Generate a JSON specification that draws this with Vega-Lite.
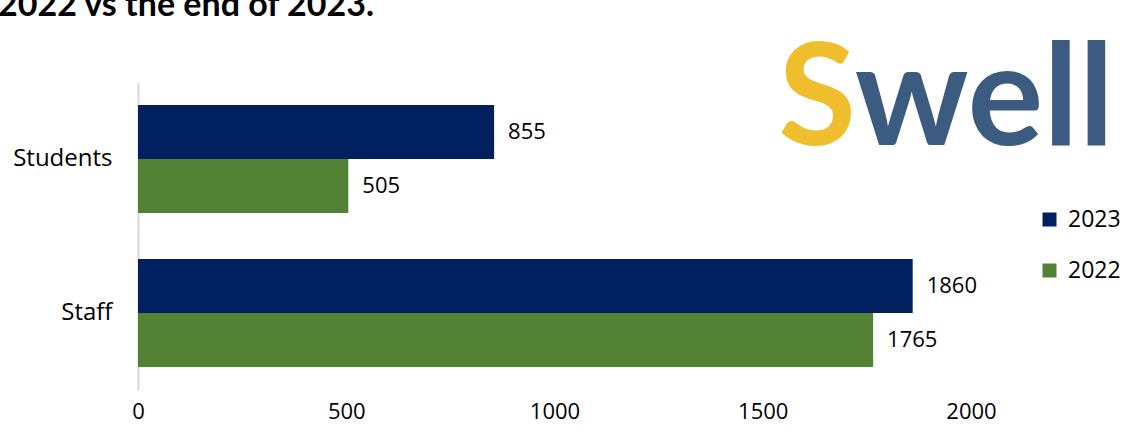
{
  "$schema": "https://vega.github.io/schema/vega-lite/v6.json",
  "autosize": {"type": "none"},
  "width": 833,
  "height": 308,
  "padding": {"left": 138, "top": 82, "right": 157, "bottom": 44},
  "background": "white",
  "title": {
    "text": "2022 vs the end of 2023.",
    "anchor": "start",
    "frame": "group",
    "font": "Lato",
    "fontSize": 34,
    "fontWeight": "bold",
    "color": "#000000",
    "baseline": "alphabetic",
    "offset": -19,
    "dx": -140
  },
  "config": {
    "view": {"stroke": null},
    "font": "Open Sans"
  },
  "data": {
    "values": [
      {"group": "Students", "year": "2023", "count": 855},
      {"group": "Students", "year": "2022", "count": 505},
      {"group": "Staff", "year": "2023", "count": 1860},
      {"group": "Staff", "year": "2022", "count": 1765}
    ]
  },
  "layer": [
    {
      "mark": {"type": "bar"},
      "encoding": {
        "y": {
          "field": "group", "type": "nominal", "sort": ["Students", "Staff"],
          "scale": {"paddingInner": 0.3, "paddingOuter": 0.15},
          "axis": {"title": null, "ticks": false, "domainColor": "#d9d9d9", "domainWidth": 2, "labelFont": "Open Sans", "labelFontSize": 24, "labelColor": "#000000", "labelPadding": 26}
        },
        "yOffset": {"field": "year", "type": "nominal", "sort": ["2023", "2022"]},
        "x": {
          "field": "count", "type": "quantitative",
          "scale": {"domain": [0, 2000], "nice": false},
          "axis": {"title": null, "values": [0, 500, 1000, 1500, 2000], "format": "d", "grid": false, "domain": false, "ticks": false, "labelFont": "Open Sans", "labelFontSize": 22, "labelColor": "#000000", "labelPadding": 11, "labelFlush": false}
        },
        "color": {
          "field": "year", "type": "nominal",
          "scale": {"domain": ["2023", "2022"], "range": ["#002060", "#548235"]},
          "legend": {"title": null, "orient": "none", "legendX": 900, "legendY": 126, "symbolType": "square", "symbolSize": 196, "symbolStrokeWidth": 0, "labelFont": "Open Sans", "labelFontSize": 23, "labelColor": "#000000", "labelOffset": 7, "rowPadding": 27}
        }
      }
    },
    {
      "mark": {"type": "text", "align": "left", "baseline": "middle", "dx": 14, "font": "Open Sans", "fontSize": 22, "color": "#000000"},
      "encoding": {
        "y": {"field": "group", "type": "nominal", "sort": ["Students", "Staff"]},
        "yOffset": {"field": "year", "type": "nominal", "sort": ["2023", "2022"]},
        "x": {"field": "count", "type": "quantitative"},
        "text": {"field": "count", "type": "quantitative"}
      }
    },
    {
      "data": {"values": [{"word": "S"}]},
      "mark": {"type": "text", "align": "left", "baseline": "alphabetic", "dy": -14, "font": "Lato", "fontSize": 142, "fontWeight": "bold", "color": "#F0BE2C"},
      "encoding": {
        "x": {"datum": 1537, "type": "quantitative"},
        "y": {"datum": "Students", "type": "nominal"},
        "text": {"field": "word", "type": "nominal"}
      }
    },
    {
      "data": {"values": [{"word": "well"}]},
      "mark": {"type": "text", "align": "left", "baseline": "alphabetic", "dy": -14, "font": "Lato", "fontSize": 142, "fontWeight": "bold", "color": "#3B5B80"},
      "encoding": {
        "x": {"datum": 1721, "type": "quantitative"},
        "y": {"datum": "Students", "type": "nominal"},
        "text": {"field": "word", "type": "nominal"}
      }
    }
  ]
}
